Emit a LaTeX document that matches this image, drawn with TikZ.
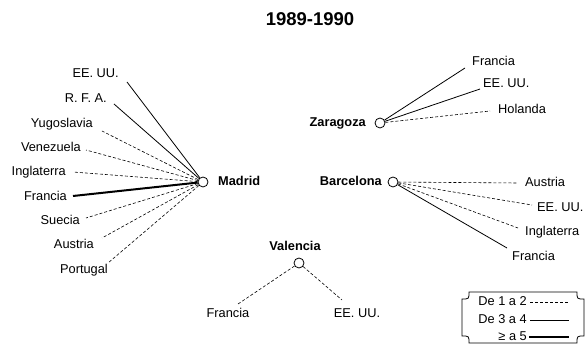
\documentclass[tikz,border=0pt]{standalone}
\usepackage{fontspec}
\setmainfont{Liberation Sans}
\newcommand\lblfont{\fontsize{12.8}{15}\selectfont}
\begin{document}
\begin{tikzpicture}[x=1pt,y=-1pt,
  hub/.style={circle,draw,minimum size=10pt,inner sep=0pt,line width=0.8pt},
  lbl/.style={font=\lblfont,inner sep=0pt,text height=9.2pt,text depth=2.6pt},
  city/.style={font=\lblfont\bfseries,inner sep=0pt,text height=9.2pt,text depth=2.6pt},
  lowf/.style={line width=0.6pt,dash pattern=on 3pt off 2pt},
  midf/.style={line width=0.8pt},
  highf/.style={line width=2pt}]
\useasboundingbox (0,0) rectangle (586,344);
\node[font=\fontsize{18.5}{20}\selectfont\bfseries,inner sep=0pt] (title) at (310,19) {1989-1990};

% Madrid
\node[hub] (mad) at (203,182) {};
\node[city,anchor=west] (madl) at (218,182) {Madrid};
\node[lbl,anchor=east] (m1) at (119,74) {EE. UU.};
\node[lbl,anchor=east] (m2) at (107,99) {R. F. A.};
\node[lbl,anchor=east] (m3) at (93,124) {Yugoslavia};
\node[lbl,anchor=east] (m4) at (81,148) {Venezuela};
\node[lbl,anchor=east] (m5) at (66,172) {Inglaterra};
\node[lbl,anchor=east] (m6) at (67,197) {Francia};
\node[lbl,anchor=east] (m7) at (80,221) {Suecia};
\node[lbl,anchor=east] (m8) at (94,245) {Austria};
\node[lbl,anchor=east] (m9) at (108,270) {Portugal};
\coordinate (cm1) at (127,82);
\coordinate (cm2) at (114,104);
\coordinate (cm3) at (102,131);
\coordinate (cm4) at (86,150);
\coordinate (cm5) at (73,172);
\coordinate (cm6) at (73,196);
\coordinate (cm7) at (86,218);
\coordinate (cm8) at (102,238);
\coordinate (cm9) at (108,263);
\draw[midf] (mad) -- (cm1);
\draw[midf] (mad) -- (cm2);
\draw[lowf] (mad) -- (cm3);
\draw[lowf] (mad) -- (cm4);
\draw[lowf] (mad) -- (cm5);
\draw[highf] (mad) -- (cm6);
\draw[lowf] (mad) -- (cm7);
\draw[lowf] (mad) -- (cm8);
\draw[lowf] (mad) -- (cm9);

% Zaragoza
\node[hub] (zar) at (380,123) {};
\node[city,anchor=east] (zarl) at (366,123) {Zaragoza};
\node[lbl,anchor=west] (z1) at (472,62) {Francia};
\node[lbl,anchor=west] (z2) at (483,84) {EE. UU.};
\node[lbl,anchor=west] (z3) at (498,110) {Holanda};
\coordinate (cz1) at (465,68);
\coordinate (cz2) at (480,89);
\coordinate (cz3) at (490,111);
\draw[midf] (zar) -- (cz1);
\draw[midf] (zar) -- (cz2);
\draw[lowf] (zar) -- (cz3);

% Barcelona
\node[hub] (bar) at (393,182) {};
\node[city,anchor=east] (barl) at (382,182) {Barcelona};
\node[lbl,anchor=west] (b1) at (525,183) {Austria};
\node[lbl,anchor=west] (b2) at (537,208) {EE. UU.};
\node[lbl,anchor=west] (b3) at (525,232) {Inglaterra};
\node[lbl,anchor=west] (b4) at (512,257) {Francia};
\coordinate (cb1) at (517,183);
\coordinate (cb2) at (532,205);
\coordinate (cb3) at (518,228);
\coordinate (cb4) at (507,248);
\draw[lowf] (bar) -- (cb1);
\draw[lowf] (bar) -- (cb2);
\draw[lowf] (bar) -- (cb3);
\draw[midf] (bar) -- (cb4);

% Valencia
\node[hub] (val) at (299,263) {};
\node[city] (vall) at (295,247) {Valencia};
\node[lbl] (v1) at (228,314) {Francia};
\node[lbl] (v2) at (357,314) {EE. UU.};
\coordinate (cv1) at (238,304);
\coordinate (cv2) at (342,300);
\draw[lowf] (val) -- (cv1);
\draw[lowf] (val) -- (cv2);

% Legend
\draw[line width=0.8pt] (469,292) -- (577,292) .. controls (577,299) .. (584,299) -- (584,336)
  .. controls (577,336) .. (577,343) -- (469,343) .. controls (469,336) .. (462,336)
  -- (462,299) .. controls (469,299) .. (469,292) -- cycle;
\node[lbl,anchor=east] (k1) at (527,302) {De 1 a 2};
\node[lbl,anchor=east] (k2) at (527,320) {De 3 a 4};
\node[lbl,anchor=east] (k3) at (527,337) {≥ a 5};
\coordinate (k1e) at (569,302);
\coordinate (k2e) at (569,320);
\coordinate (k3e) at (569,337);
\draw[lowf] (k1.east) ++(3,0) coordinate (k1s) (k1s) -- (k1e);
\draw[midf] (k2.east) ++(3,0) coordinate (k2s) (k2s) -- (k2e);
\draw[highf] (k3.east) ++(2,0) coordinate (k3s) (k3s) -- (k3e);
\end{tikzpicture}
\end{document}
